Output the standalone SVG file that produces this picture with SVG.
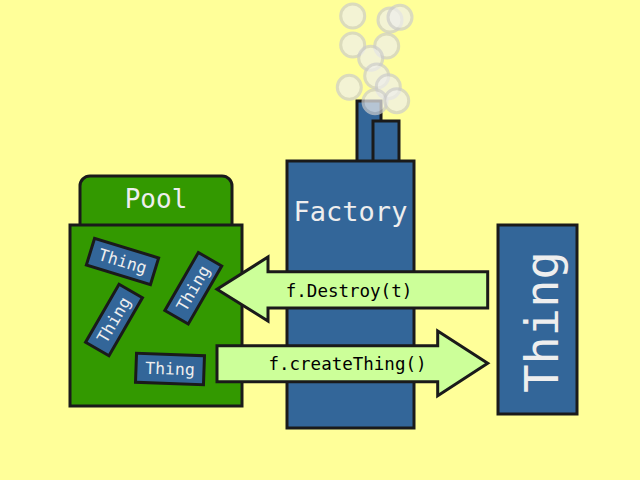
<svg xmlns="http://www.w3.org/2000/svg" width="640" height="480" viewBox="0 0 640 480">
<style>
.bg{fill:#ffff99}
.green{fill:#339900;stroke:#1a1a1a;stroke-width:3}
.blue{fill:#336699;stroke:#1a1a1a;stroke-width:3}
.arrow{fill:#ccff99;stroke:#1a1a1a;stroke-width:3;stroke-linejoin:miter}
.smoke{fill:#eeeeee;stroke:#cccccc;stroke-width:3;opacity:0.7}
.wt{fill:#eeeeee;font-family:"DejaVu Sans Mono",monospace;text-anchor:middle}
.bt{fill:#000000;font-family:"DejaVu Sans Mono",monospace;text-anchor:middle;font-size:17.5px}
.st{font-size:16.5px;dominant-baseline:central}
</style>
<rect class="bg" x="0" y="0" width="640" height="480"/>
<g id="pool">
<path class="green" d="M80,226 V186 A10,10 0 0 1 90,176 H222 A10,10 0 0 1 232,186 V226 Z"/>
<rect class="green" x="70" y="225" width="172" height="181"/>
<text class="wt" x="156" y="208" font-size="26">Pool</text>
</g>
<g id="thing1" transform="translate(122.5,261.5) rotate(17)">
<rect class="blue" x="-33.5" y="-14" width="67" height="28"/>
<text class="wt st" x="0" y="0">Thing</text>
</g>
<g id="thing2" transform="translate(114,320) rotate(-60)">
<rect class="blue" x="-33.5" y="-13.5" width="67" height="27"/>
<text class="wt st" x="0" y="0">Thing</text>
</g>
<g id="thing3" transform="translate(193.3,288.3) rotate(-60)">
<rect class="blue" x="-33.5" y="-13.5" width="67" height="27"/>
<text class="wt st" x="0" y="0">Thing</text>
</g>
<g id="thing4" transform="translate(170,369) rotate(2)">
<rect class="blue" x="-34" y="-14.5" width="68" height="29"/>
<text class="wt st" x="0" y="0">Thing</text>
</g>
<g id="factory">
<rect class="blue" x="357" y="101" width="24" height="62"/>
<rect class="blue" x="373" y="121" width="26" height="42"/>
<rect class="blue" x="287" y="161" width="127" height="267"/>
<text class="wt" x="350.5" y="221" font-size="27">Factory</text>
</g>
<g id="smoke">
<circle class="smoke" cx="352.7" cy="16" r="12"/>
<circle class="smoke" cx="390" cy="20" r="12"/>
<circle class="smoke" cx="400" cy="17.3" r="12"/>
<circle class="smoke" cx="352.7" cy="45" r="12"/>
<circle class="smoke" cx="386.7" cy="46" r="12"/>
<circle class="smoke" cx="370.7" cy="58.3" r="12"/>
<circle class="smoke" cx="376.7" cy="76" r="12"/>
<circle class="smoke" cx="388.3" cy="86.7" r="12"/>
<circle class="smoke" cx="349.3" cy="87.3" r="12"/>
<circle class="smoke" cx="375" cy="101.7" r="12"/>
<circle class="smoke" cx="396.7" cy="100.7" r="12"/>
</g>
<g id="thing">
<rect class="blue" x="498" y="225" width="79" height="189"/>
<text class="wt" transform="translate(541,322) rotate(-90)" font-size="47" dominant-baseline="central">Thing</text>
</g>
<g id="connectors">
<g id="destroy">
<path class="arrow" d="M487.7,271.7 H268 V257 L217,289.3 L268,321 V308 H487.7 Z"/>
<text class="bt" x="349" y="297">f.Destroy(t)</text>
</g>
<g id="create">
<path class="arrow" d="M217,345.7 H437.7 V331 L487.7,363.3 L437.7,395.7 V381.7 H217 Z"/>
<text class="bt" x="347.5" y="370">f.createThing()</text>
</g>
</g>
</svg>
